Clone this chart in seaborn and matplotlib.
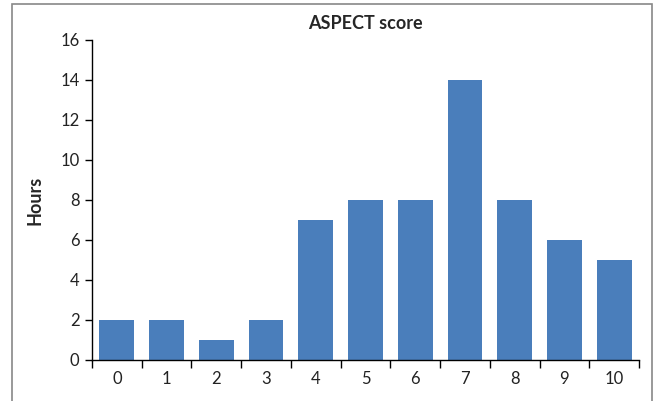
import numpy as np
import seaborn as sns
import matplotlib.pyplot as plt
from matplotlib.patches import Rectangle

# ASPECT score vs hours
scores = [0, 1, 2, 3, 4, 5, 6, 7, 8, 9, 10]
hours = [2, 2, 1, 2, 7, 8, 8, 14, 8, 6, 5]
yticks = [0, 2, 4, 6, 8, 10, 12, 14, 16]

sns.set_style("white")
plt.rcParams['font.family'] = ['Lato', 'DejaVu Sans']

fig = plt.figure(figsize=(6.6, 4.01), dpi=100)
ax = fig.add_axes([92/660, 1 - 360/401, (639 - 92)/660, (360 - 40)/401])

sns.barplot(x=scores, y=hours, color="#4a7ebb", saturation=1, width=0.7,
            linewidth=0, ax=ax)

ax.set_xlim(-0.5, len(scores) - 0.5)
ax.set_ylim(0, 16)
ax.set_yticks(yticks)
ax.set_xticks(range(len(scores)))
ax.set_xticklabels([str(s) for s in scores])
ax.set_xticks(np.arange(-0.5, len(scores)), minor=True)
ax.tick_params(axis='x', which='major', length=0, labelsize=12, pad=8, colors='#222222')
ax.tick_params(axis='x', which='minor', length=6, width=1, color='black', direction='out', bottom=True)
ax.tick_params(axis='y', length=5, width=1, color='black', direction='out', left=True, labelsize=12, pad=4, labelcolor='#222222')

for side in ['top', 'right']:
    ax.spines[side].set_visible(False)
for side in ['left', 'bottom']:
    ax.spines[side].set_color('black')
    ax.spines[side].set_linewidth(1)

ax.set_title("ASPECT score", fontsize=13, fontweight='bold', pad=8)
ax.set_ylabel("Hours", fontsize=13, fontweight='bold', labelpad=12)
ax.set_xlabel("")

# outer frame, cut at the bottom
fig.patches.append(Rectangle((12/660, -0.05), (652 - 12)/660, 1.05 - 4/401,
                             transform=fig.transFigure, fill=False,
                             edgecolor='#888888', linewidth=1.2))

fig.savefig("out.png", dpi=100)
